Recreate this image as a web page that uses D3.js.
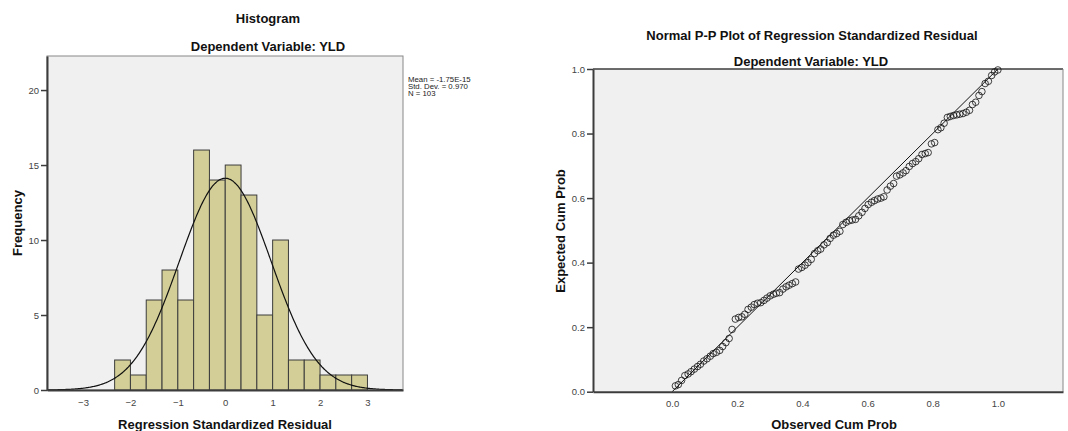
<!DOCTYPE html>
<html>
<head>
<meta charset="utf-8">
<script src="https://cdn.jsdelivr.net/npm/d3@7"></script>
<style>
  body { margin: 0; background: #fff; }
  text { font-family: "Liberation Sans", Arial, sans-serif; }
</style>
</head>
<body>
<svg id="chart"></svg>
<script>
// histogram bins (width 1/3) and counts
const binEdges = [-7/3, -2, -5/3, -4/3, -1, -2/3, -1/3, 0, 1/3, 2/3, 1, 4/3, 5/3, 2, 7/3, 8/3, 3];
const binCounts = [2, 1, 6, 8, 6, 16, 14, 15, 13, 5, 10, 2, 2, 1, 1, 1];
const histXTicks = [-3, -2, -1, 0, 1, 2, 3];
const histYTicks = [0, 5, 10, 15, 20];
const stats = { mean: -1.75e-15, sd: 0.970, n: 103 };
const statLines = ["Mean = -1.75E-15", "Std. Dev. = 0.970", "N = 103"];

// P-P plot points
const observed = [0.010, 0.019, 0.029, 0.039, 0.049, 0.058, 0.068, 0.078, 0.087, 0.097,
  0.107, 0.117, 0.126, 0.136, 0.146, 0.155, 0.165, 0.175, 0.184, 0.194,
  0.204, 0.214, 0.223, 0.233, 0.243, 0.252, 0.262, 0.272, 0.282, 0.291,
  0.301, 0.311, 0.320, 0.330, 0.340, 0.350, 0.359, 0.369, 0.379, 0.388,
  0.398, 0.408, 0.417, 0.427, 0.437, 0.447, 0.456, 0.466, 0.476, 0.485,
  0.495, 0.505, 0.515, 0.524, 0.534, 0.544, 0.553, 0.563, 0.573, 0.583,
  0.592, 0.602, 0.612, 0.621, 0.631, 0.641, 0.650, 0.660, 0.670, 0.680,
  0.689, 0.699, 0.709, 0.718, 0.728, 0.738, 0.748, 0.757, 0.767, 0.777,
  0.786, 0.796, 0.806, 0.816, 0.825, 0.835, 0.845, 0.854, 0.864, 0.874,
  0.883, 0.893, 0.903, 0.913, 0.922, 0.932, 0.942, 0.951, 0.961, 0.971,
  0.981, 0.990, 1.000];
const expected = [0.018, 0.022, 0.035, 0.050, 0.055, 0.062, 0.070, 0.078, 0.085, 0.095,
  0.102, 0.110, 0.118, 0.122, 0.128, 0.140, 0.152, 0.165, 0.193, 0.225,
  0.230, 0.232, 0.240, 0.255, 0.262, 0.270, 0.274, 0.276, 0.283, 0.290,
  0.297, 0.302, 0.305, 0.307, 0.318, 0.325, 0.330, 0.335, 0.340, 0.380,
  0.385, 0.392, 0.400, 0.410, 0.428, 0.437, 0.442, 0.455, 0.462, 0.475,
  0.485, 0.490, 0.497, 0.518, 0.525, 0.530, 0.532, 0.534, 0.545, 0.556,
  0.568, 0.580, 0.587, 0.592, 0.597, 0.600, 0.604, 0.625, 0.637, 0.645,
  0.668, 0.672, 0.678, 0.685, 0.698, 0.707, 0.713, 0.722, 0.735, 0.738,
  0.741, 0.768, 0.772, 0.812, 0.818, 0.832, 0.850, 0.853, 0.856, 0.858,
  0.860, 0.862, 0.866, 0.872, 0.890, 0.897, 0.918, 0.930, 0.955, 0.962,
  0.980, 0.991, 0.997];
const ppTicks = [0.0, 0.2, 0.4, 0.6, 0.8, 1.0];

const width = 1068, height = 431;
const svg = d3.select("#chart").attr("width", width).attr("height", height);

const plotBg = "#f0f0f0", axisColor = "#3c3c3c", tickColor = "#444";

//---------------- histogram ----------------
const hx = d3.scaleLinear().domain([-3.76, 3.75]).range([47, 403]);
const hy = d3.scaleLinear().domain([0, 22.27]).range([390, 56]);

svg.append("rect")
  .attr("x", hx.range()[0]).attr("y", hy.range()[1])
  .attr("width", hx.range()[1] - hx.range()[0]).attr("height", hy.range()[0] - hy.range()[1])
  .attr("fill", plotBg).attr("stroke", "#888").attr("stroke-width", 1);

const bins = binCounts.map((c, i) => ({ x0: binEdges[i], x1: binEdges[i + 1], count: c }));
svg.append("g")
  .selectAll("rect")
  .data(bins)
  .join("rect")
  .attr("x", d => hx(d.x0))
  .attr("y", d => hy(d.count))
  .attr("width", d => hx(d.x1) - hx(d.x0))
  .attr("height", d => hy(0) - hy(d.count))
  .attr("fill", "#d3ce97")
  .attr("stroke", "#3c3c3c")
  .attr("stroke-width", 1);

// normal curve from the stats shown
const binW = 1 / 3;
const curvePts = d3.range(-3.76, 3.751, 0.02).map(x => [x,
  stats.n * binW * Math.exp(-0.5 * ((x - stats.mean) / stats.sd) ** 2) / (stats.sd * Math.sqrt(2 * Math.PI))]);
svg.append("path")
  .datum(curvePts)
  .attr("fill", "none").attr("stroke", "#111").attr("stroke-width", 1.2)
  .attr("d", d3.line().x(d => hx(d[0])).y(d => hy(d[1])).curve(d3.curveBasis));

// axes
const hyAxis = svg.append("g")
  .attr("transform", `translate(${hx.range()[0]},0)`)
  .call(d3.axisLeft(hy).tickValues(histYTicks).tickSize(6).tickPadding(2).tickSizeOuter(0));
const hxAxis = svg.append("g")
  .attr("transform", `translate(0,${hy.range()[0]})`)
  .call(d3.axisBottom(hx).tickValues(histXTicks).tickSize(0).tickPadding(9).tickSizeOuter(0));

[hyAxis, hxAxis].forEach(g => {
  g.select(".domain").attr("stroke", axisColor).attr("stroke-width", 2);
  g.selectAll(".tick line").attr("stroke", axisColor).attr("stroke-width", 1.5);
  g.selectAll(".tick text").attr("fill", tickColor)
    .style("font-family", "'Liberation Sans', Arial, sans-serif").style("font-size", "9.5px");
});
hxAxis.selectAll(".tick text").attr("dy", "0.35em").attr("y", 13);

const bold = sel => sel.style("font-weight", "bold").style("font-size", "13px").attr("fill", "#111");

bold(svg.append("text").attr("x", 268).attr("y", 23).attr("text-anchor", "middle")).text("Histogram");
bold(svg.append("text").attr("x", 268).attr("y", 50.5).attr("text-anchor", "middle")).text("Dependent Variable: YLD");
bold(svg.append("text").attr("transform", "translate(22,223) rotate(-90)").attr("text-anchor", "middle")).text("Frequency");
bold(svg.append("text").attr("x", 225).attr("y", 428.5).attr("text-anchor", "middle")).text("Regression Standardized Residual");

svg.append("g").selectAll("text")
  .data(statLines)
  .join("text")
  .attr("x", 408)
  .attr("y", (d, i) => 82 + i * 7.2)
  .style("font-size", "7.8px")
  .attr("fill", "#222")
  .text(d => d);

//---------------- P-P plot ----------------
const px = d3.scaleLinear().domain([-0.243, 1.2]).range([593, 1063]);
const py = d3.scaleLinear().domain([0, 1]).range([391.7, 69]);

svg.append("rect")
  .attr("x", px.range()[0]).attr("y", py.range()[1])
  .attr("width", px.range()[1] - px.range()[0]).attr("height", py.range()[0] - py.range()[1])
  .attr("fill", plotBg).attr("stroke", "none");
svg.append("line")
  .attr("x1", px.range()[0]).attr("x2", px.range()[1])
  .attr("y1", py.range()[1]).attr("y2", py.range()[1])
  .attr("stroke", axisColor).attr("stroke-width", 1.5);
svg.append("line")
  .attr("x1", px.range()[1]).attr("x2", px.range()[1])
  .attr("y1", py.range()[1]).attr("y2", py.range()[0])
  .attr("stroke", "#888").attr("stroke-width", 1);

svg.append("line")
  .attr("x1", px(0)).attr("y1", py(0))
  .attr("x2", px(1)).attr("y2", py(1))
  .attr("stroke", "#111").attr("stroke-width", 1);

const ppData = observed.map((o, i) => ({ o, e: expected[i] }));
svg.append("g")
  .selectAll("circle")
  .data(ppData)
  .join("circle")
  .attr("cx", d => px(d.o))
  .attr("cy", d => py(d.e))
  .attr("r", 3.3)
  .attr("fill", "none")
  .attr("stroke", "#111")
  .attr("stroke-width", 0.8);

const pyAxis = svg.append("g")
  .attr("transform", `translate(${px.range()[0]},0)`)
  .call(d3.axisLeft(py).tickValues(ppTicks).tickFormat(d3.format(".1f")).tickSize(6).tickPadding(2).tickSizeOuter(0));
const pxAxis = svg.append("g")
  .attr("transform", `translate(0,${py.range()[0]})`)
  .call(d3.axisBottom(px).tickValues(ppTicks).tickFormat(d3.format(".1f")).tickSize(0).tickPadding(9).tickSizeOuter(0));

[pyAxis, pxAxis].forEach(g => {
  g.select(".domain").attr("stroke", axisColor).attr("stroke-width", 2);
  g.selectAll(".tick line").attr("stroke", axisColor).attr("stroke-width", 1.5);
  g.selectAll(".tick text").attr("fill", tickColor)
    .style("font-family", "'Liberation Sans', Arial, sans-serif").style("font-size", "9.5px");
});
pxAxis.selectAll(".tick text").attr("dy", "0.35em").attr("y", 12);

bold(svg.append("text").attr("x", 812).attr("y", 39.5).attr("text-anchor", "middle")).text("Normal P-P Plot of Regression Standardized Residual");
bold(svg.append("text").attr("x", 811).attr("y", 66).attr("text-anchor", "middle")).text("Dependent Variable: YLD");
bold(svg.append("text").attr("transform", "translate(565,231) rotate(-90)").attr("text-anchor", "middle")).text("Expected Cum Prob");
bold(svg.append("text").attr("x", 834).attr("y", 428.5).attr("text-anchor", "middle")).text("Observed Cum Prob");
</script>
</body>
</html>
